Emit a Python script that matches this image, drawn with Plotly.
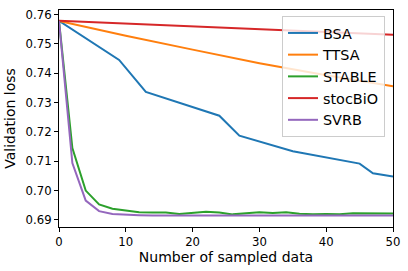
import plotly.graph_objects as go

# ---- data ----
x_bsa = [0, 9, 13, 24, 27, 35, 45, 47, 50]
y_bsa = [0.7578, 0.7445, 0.7336, 0.7255, 0.7187, 0.7134, 0.7092, 0.7059, 0.7048]

x_slow = [0, 10, 20, 30, 40, 50]
y_ttsa = [0.7578, 0.7527, 0.7480, 0.7434, 0.7393, 0.7355]
y_stocbio = [0.7578, 0.7568, 0.7559, 0.7549, 0.7540, 0.7531]

x_fast = list(range(0, 51, 2))
y_stable = [0.7578, 0.7145, 0.7000, 0.6953, 0.6938, 0.6931, 0.6926, 0.6925, 0.6925,
            0.6920, 0.6924, 0.6928, 0.6925, 0.6919, 0.6923, 0.6926, 0.6924, 0.6926,
            0.6921, 0.6919, 0.6920, 0.6919, 0.6923, 0.6923, 0.6923, 0.6922]
y_svrb = [0.7578, 0.7094, 0.6966, 0.6930, 0.6920, 0.6917, 0.6916, 0.6915, 0.6915,
          0.6915, 0.6915, 0.6915, 0.6915, 0.6915, 0.6915, 0.6915, 0.6915, 0.6915,
          0.6915, 0.6915, 0.6915, 0.6915, 0.6915, 0.6915, 0.6915, 0.6915]

x_ticks = [0, 10, 20, 30, 40, 50]
y_ticks = [0.69, 0.70, 0.71, 0.72, 0.73, 0.74, 0.75, 0.76]

series = [
    ("BSA", x_bsa, y_bsa, "#1f77b4"),
    ("TTSA", x_slow, y_ttsa, "#ff7f0e"),
    ("STABLE", x_fast, y_stable, "#2ca02c"),
    ("stocBiO", x_slow, y_stocbio, "#d62728"),
    ("SVRB", x_fast, y_svrb, "#9467bd"),
]

fig = go.Figure()
for i, (name, xs, ys, c) in enumerate(series):
    fig.add_trace(go.Scatter(x=xs, y=ys, mode="lines", name=name,
                             line=dict(color=c, width=2), legendgroup=f"g{i}"))

font = "DejaVu Sans"
axis_common = dict(showline=True, linecolor="black", linewidth=1.1, mirror=True,
                   ticks="outside", ticklen=4, tickcolor="black", tickwidth=1.1,
                   showgrid=False, zeroline=False,
                   tickfont=dict(family=font, size=11.7, color="black"))

fig.update_layout(
    width=408, height=271,
    margin=dict(l=59, r=14, t=8, b=44),
    paper_bgcolor="white", plot_bgcolor="white",
    font=dict(family=font, color="black"),
    xaxis=dict(range=[0, 50], tickvals=x_ticks,
               title=dict(text="Number of sampled data", font=dict(family=font, size=14), standoff=4),
               **axis_common),
    yaxis=dict(range=[0.6876, 0.7615], tickvals=y_ticks, tickformat=".2f",
               title=dict(text="Validation loss", font=dict(family=font, size=14), standoff=6),
               **axis_common),
    legend=dict(x=0.976, y=0.972, xanchor="right", yanchor="top",
                bgcolor="rgba(255,255,255,0.8)", bordercolor="#cccccc", borderwidth=1,
                font=dict(family=font, size=14.4), tracegroupgap=0),
    showlegend=True,
)

fig.write_html("out.html", config={"displayModeBar": False},
               post_script="document.body.style.margin='0';")
